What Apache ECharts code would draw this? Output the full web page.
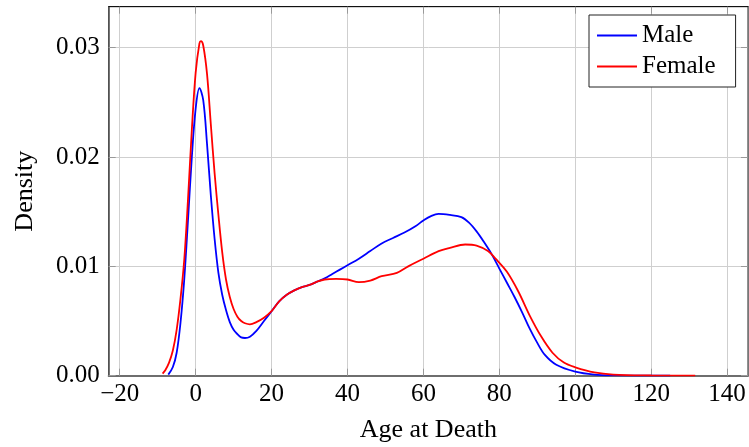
<!DOCTYPE html>
<html>
<head>
<meta charset="utf-8">
<script src="https://cdn.jsdelivr.net/npm/echarts@6/dist/echarts.min.js"></script>
<style>html,body{margin:0;padding:0;background:#fff}#c{width:749px;height:447px}</style>
</head>
<body>
<div id="c"></div>
<script>
const xTicks = [-20, 0, 20, 40, 60, 80, 100, 120, 140];
const yTicks = [0, 0.01, 0.02, 0.03];
const seriesNames = ['Male', 'Female'];

const maleX = [-7.2,-6,-5,-4,-3,-2,-1,0,1,2,3,4,5,6,7,8,9,10,11,12,13,14.3,16,18,20,22,24,26,28,30,32,34,36,38,40,43,46,49,52,55,58,60,62,64,67,70,72,74,76,78,80,82,84,86,88,90,92,95,100,105,110,125];
const maleY = [0.0001,0.0008,0.0021,0.0048,0.0088,0.0143,0.0200,0.0244,0.0263,0.0252,0.0212,0.0165,0.0125,0.0094,0.0074,0.0060,0.0049,0.0042,0.0038,0.0035,0.00345,0.00357,0.0041,0.0050,0.0059,0.0068,0.0074,0.0078,0.0081,0.0083,0.0086,0.0089,0.0093,0.0097,0.0101,0.0107,0.0114,0.0121,0.0126,0.0131,0.0137,0.0142,0.0146,0.0148,0.0147,0.0145,0.0140,0.0132,0.0122,0.0111,0.0098,0.0085,0.0072,0.0058,0.0043,0.0030,0.0019,0.0010,0.00037,0.0001,0.00003,0.0];

const femaleX = [-8.7,-8,-7,-6,-5,-4,-3,-2,-1,0,1,1.4,2,3,4,5,6,7,8,9,10,11,12,13,14.3,16,18,20,22,24,26,28,30,32,34,37,40,43,46,49,53,56,60,64,67,71,74,77,79,82,85,88,91,94,97,100,105,110,120,131.6];
const femaleY = [0.0002,0.0005,0.0012,0.0023,0.0042,0.0070,0.0106,0.0162,0.0225,0.0277,0.0304,0.0306,0.0302,0.0276,0.0230,0.0185,0.0147,0.0113,0.0088,0.0072,0.0061,0.0054,0.0050,0.0048,0.0047,0.0049,0.0053,0.0059,0.0068,0.0074,0.0078,0.0081,0.0083,0.0086,0.0088,0.00885,0.0088,0.00855,0.0087,0.0091,0.0094,0.0100,0.0107,0.0114,0.0117,0.0120,0.0119,0.0114,0.0107,0.0095,0.0077,0.0055,0.0036,0.0021,0.0012,0.00077,0.0003,0.0001,0.00002,0.0];

const pairs = (xs, ys) => xs.map((x, i) => [x, ys[i]]);
const FONT = 'Liberation Serif';
const XMIN = -22.9, XMAX = 145.5, YMIN = 0, YMAX = 0.03375;

const chart = echarts.init(document.getElementById('c'));
const tickStyle = { show: true, inside: true, length: 7, lineStyle: { color: '#999', width: 1 } };
chart.setOption({
  animation: false,
  backgroundColor: '#fff',
  grid: { left: 108.7, right: 1, top: 6.7, bottom: 71.3, show: true, borderColor: '#222', borderWidth: 1,
    containLabel: false, outerBoundsMode: 'none' },
  legend: {
    data: seriesNames.map(n => ({ name: n, icon: 'rect' })),
    orient: 'vertical',
    left: 589, top: 15,
    padding: [8, 20, 8, 8],
    itemGap: 6,
    itemWidth: 40, itemHeight: 2,
    borderColor: '#222', borderWidth: 1,
    backgroundColor: '#fff',
    textStyle: { fontFamily: FONT, fontSize: 25, color: '#000', lineHeight: 25 }
  },
  xAxis: [{
    type: 'value', min: XMIN, max: XMAX, position: 'bottom',
    name: 'Age at Death', nameLocation: 'middle', nameGap: 41,
    nameTextStyle: { fontFamily: FONT, fontSize: 26, color: '#000' },
    axisLine: { show: true, onZero: false, lineStyle: { color: '#6e6e6e', width: 2 } },
    axisTick: Object.assign({ customValues: xTicks }, tickStyle),
    axisLabel: { customValues: xTicks, margin: 6, fontFamily: FONT, fontSize: 25, color: '#000',
      formatter: v => String(v).replace('-', '\u2212') },
    splitLine: { show: true, lineStyle: { color: '#cfcfcf', width: 1 } }
  }, {
    type: 'value', min: XMIN, max: XMAX, position: 'top',
    axisLine: { show: true, onZero: false, lineStyle: { color: '#111', width: 1 } },
    axisTick: Object.assign({ customValues: xTicks }, tickStyle),
    axisLabel: { show: false },
    splitLine: { show: false }
  }],
  yAxis: [{
    type: 'value', min: YMIN, max: YMAX, position: 'left',
    name: 'Density', nameLocation: 'middle', nameGap: 71, nameRotate: 90,
    nameTextStyle: { fontFamily: FONT, fontSize: 26, color: '#000' },
    axisLine: { show: true, onZero: false, lineStyle: { color: '#555', width: 1.5 } },
    axisTick: Object.assign({ customValues: yTicks }, tickStyle),
    axisLabel: { customValues: yTicks, margin: 9, fontFamily: FONT, fontSize: 25, color: '#000',
      formatter: v => v.toFixed(2) },
    splitLine: { show: true, lineStyle: { color: '#cfcfcf', width: 1 } }
  }, {
    type: 'value', min: YMIN, max: YMAX, position: 'right',
    axisLine: { show: true, onZero: false, lineStyle: { color: '#777', width: 1 } },
    axisTick: Object.assign({ customValues: yTicks }, tickStyle),
    axisLabel: { show: false },
    splitLine: { show: false }
  }],
  series: [{
    name: seriesNames[0], type: 'line', data: pairs(maleX, maleY),
    symbol: 'none', smooth: 0.35, color: '#0000ff',
    lineStyle: { color: '#0000ff', width: 1.8 }, z: 3
  }, {
    name: seriesNames[1], type: 'line', data: pairs(femaleX, femaleY),
    symbol: 'none', smooth: 0.35, color: '#ff0000',
    lineStyle: { color: '#ff0000', width: 1.8 }, z: 4
  }]
});
</script>
</body>
</html>
